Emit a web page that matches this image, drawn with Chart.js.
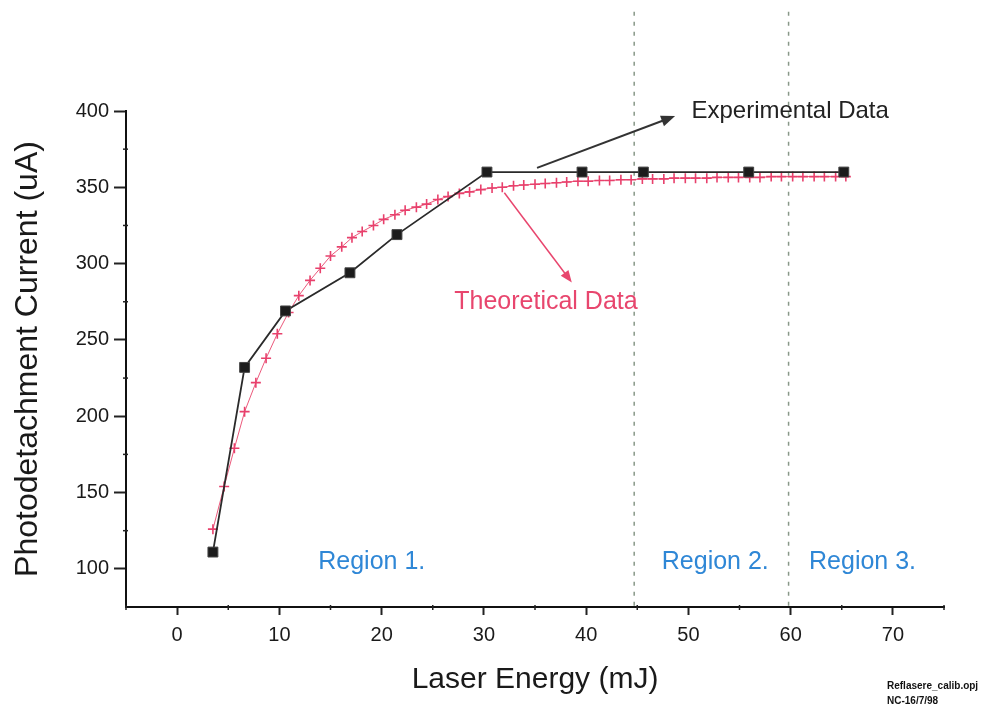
<!DOCTYPE html>
<html>
<head>
<meta charset="utf-8">
<title>Photodetachment Current vs Laser Energy</title>
<script src="https://cdn.jsdelivr.net/npm/chart.js@4.4.1/dist/chart.umd.min.js"></script>
<style>
  html, body { margin: 0; padding: 0; background: #fff; }
  canvas { display: block; }
</style>
</head>
<body>
<canvas id="myChart" width="997" height="706"></canvas>
<script>
// Datos experimentales (mJ, uA)
const energiaExp = [3.5, 6.6, 10.6, 16.9, 21.5, 30.3, 39.6, 45.6, 55.9, 65.2];
const corrienteExp = [111, 232, 269, 294, 319, 360, 360, 360, 360, 360];

// Datos teóricos (mJ, uA)
const energiaTeo = [3.5, 4.6, 5.6, 6.6, 7.7, 8.7, 9.8, 10.9, 11.9, 13.0,
  14.0, 15.0, 16.1, 17.1, 18.1, 19.2, 20.2, 21.3, 22.3, 23.4,
  24.4, 25.5, 26.5, 27.6, 28.6, 29.7, 30.8, 31.8, 32.9, 33.9,
  35.0, 36.0, 37.1, 38.1, 39.2, 40.2, 41.3, 42.3, 43.4, 44.4,
  45.5, 46.5, 47.6, 48.6, 49.7, 50.7, 51.8, 52.8, 53.9, 54.9,
  56.0, 57.0, 58.1, 59.1, 60.2, 61.2, 62.3, 63.3, 64.4, 65.4];
const corrienteTeo = [126, 154, 179, 203, 222, 238, 254, 268, 279, 289,
  297, 305, 311, 317, 321, 325, 329, 332, 335, 337,
  339, 342, 344, 346, 347, 348.5, 349.5, 350, 351, 351.5,
  352, 352.5, 353, 353.5, 354, 354, 354.5, 354.5, 355, 355,
  355.5, 355.5, 355.5, 356, 356, 356, 356, 356.5, 356.5, 356.5,
  356.5, 356.5, 357, 357, 357, 357, 357, 357, 357, 357];

// Marcas de los ejes
const ticksX = [0, 10, 20, 30, 40, 50, 60, 70];
const ticksY = [100, 150, 200, 250, 300, 350, 400];
const menoresX = [-5, 5, 15, 25, 35, 45, 55, 65, 75];
const menoresY = [125, 175, 225, 275, 325, 375];

// Límites entre regiones y sus nombres
const limitesRegion = [44.7, 59.8];
const regiones = ['Region 1.', 'Region 2.', 'Region 3.'];

const fuente = '"Liberation Sans", Arial, Helvetica, sans-serif';

const puntos = (xs, ys) => xs.map((x, i) => ({ x: x, y: ys[i] }));

// Dibuja una flecha con punta rellena
function flecha(ctx, x1, y1, x2, y2, color, ancho, largo) {
  const ang = Math.atan2(y2 - y1, x2 - x1);
  ctx.save();
  ctx.strokeStyle = color;
  ctx.fillStyle = color;
  ctx.lineWidth = ancho;
  ctx.beginPath();
  ctx.moveTo(x1, y1);
  ctx.lineTo(x2 - Math.cos(ang) * largo * 0.6, y2 - Math.sin(ang) * largo * 0.6);
  ctx.stroke();
  ctx.beginPath();
  ctx.moveTo(x2, y2);
  ctx.lineTo(x2 - largo * Math.cos(ang) + largo * 0.4 * Math.sin(ang), y2 - largo * Math.sin(ang) - largo * 0.4 * Math.cos(ang));
  ctx.lineTo(x2 - largo * Math.cos(ang) - largo * 0.4 * Math.sin(ang), y2 - largo * Math.sin(ang) + largo * 0.4 * Math.cos(ang));
  ctx.closePath();
  ctx.fill();
  ctx.restore();
}

// Líneas de región (detrás de las series)
const lineasRegion = {
  id: 'lineasRegion',
  beforeDatasetsDraw(chart) {
    const { ctx, scales: { x, y } } = chart;
    ctx.save();
    ctx.strokeStyle = '#889888';
    ctx.lineWidth = 1.5;
    ctx.setLineDash([4, 6]);
    limitesRegion.forEach((v) => {
      const px = x.getPixelForValue(v);
      ctx.beginPath();
      ctx.moveTo(px, y.getPixelForValue(465));
      ctx.lineTo(px, y.getPixelForValue(75));
      ctx.stroke();
    });
    ctx.restore();
  }
};

// Marcas menores, textos y flechas
const anotaciones = {
  id: 'anotaciones',
  afterDraw(chart) {
    const { ctx, scales: { x, y } } = chart;
    ctx.save();

    // marcas menores sobre los ejes
    ctx.strokeStyle = '#222';
    ctx.lineWidth = 1.5;
    const yBase = y.getPixelForValue(75);
    menoresX.forEach((v) => {
      const px = x.getPixelForValue(v);
      ctx.beginPath();
      ctx.moveTo(px, yBase - 2);
      ctx.lineTo(px, yBase + 3);
      ctx.stroke();
    });
    const xBase = x.getPixelForValue(-5);
    menoresY.forEach((v) => {
      const py = y.getPixelForValue(v);
      ctx.beginPath();
      ctx.moveTo(xBase - 3, py);
      ctx.lineTo(xBase + 2, py);
      ctx.stroke();
    });

    ctx.textBaseline = 'middle';
    ctx.textAlign = 'left';

    // Experimental Data
    ctx.font = '24px ' + fuente;
    ctx.fillStyle = '#222';
    ctx.fillText('Experimental Data', x.getPixelForValue(50.3), y.getPixelForValue(400));
    flecha(ctx, x.getPixelForValue(35.2), y.getPixelForValue(362.7),
      x.getPixelForValue(48.7), y.getPixelForValue(396.7), '#333', 2, 14);

    // Theoretical Data
    ctx.font = '25px ' + fuente;
    ctx.fillStyle = '#e8466e';
    ctx.fillText('Theoretical Data', x.getPixelForValue(27.1), y.getPixelForValue(274.5));
    flecha(ctx, x.getPixelForValue(32.0), y.getPixelForValue(346.4),
      x.getPixelForValue(38.6), y.getPixelForValue(287.6), '#e8466e', 1.5, 12);

    // Nombres de las regiones
    ctx.fillStyle = '#2f87d6';
    const posRegion = [13.8, 47.4, 61.8];
    regiones.forEach((r, i) => {
      ctx.fillText(r, x.getPixelForValue(posRegion[i]), y.getPixelForValue(104.6));
    });

    // nota del archivo
    ctx.fillStyle = '#111';
    ctx.font = 'bold 10px ' + fuente;
    ctx.fillText('Reflasere_calib.opj', 887, 686);
    ctx.fillText('NC-16/7/98', 887, 701);

    ctx.restore();
  }
};

const ctx = document.getElementById('myChart');

new Chart(ctx, {
  type: 'scatter',
  data: {
    datasets: [
      {
        label: 'Experimental Data',
        data: puntos(energiaExp, corrienteExp),
        showLine: true,
        borderColor: '#2a2a2a',
        borderWidth: 1.8,
        pointStyle: 'rect',
        pointRadius: 7,
        pointBackgroundColor: '#1c1c1c',
        pointBorderColor: '#444',
        pointBorderWidth: 1,
        order: 0
      },
      {
        label: 'Theoretical Data',
        data: puntos(energiaTeo, corrienteTeo),
        showLine: true,
        borderColor: 'rgba(232, 60, 100, 0.85)',
        borderWidth: 1,
        pointStyle: 'cross',
        pointRadius: 5,
        pointBorderColor: '#e8406c',
        pointBorderWidth: 1.6,
        order: 1
      }
    ]
  },
  options: {
    responsive: false,
    animation: false,
    layout: { padding: { top: 111, right: 53, left: 0, bottom: 0 } },
    plugins: {
      legend: { display: false },
      tooltip: { enabled: false }
    },
    scales: {
      x: {
        type: 'linear',
        min: -5,
        max: 75,
        afterBuildTicks: (scale) => { scale.ticks = ticksX.map((v) => ({ value: v })); },
        afterFit: (scale) => { scale.height = 99; },
        grid: { drawOnChartArea: false, drawTicks: true, tickLength: 8, tickColor: '#222', tickWidth: 2 },
        border: { display: true, color: '#111', width: 2 },
        ticks: { color: '#1a1a1a', font: { family: fuente, size: 20 }, padding: 8, maxRotation: 0 },
        title: {
          display: true,
          text: 'Laser Energy (mJ)',
          color: '#1a1a1a',
          font: { family: fuente, size: 30 },
          padding: { top: 0, bottom: 8 }
        }
      },
      y: {
        type: 'linear',
        min: 75,
        max: 400,
        afterBuildTicks: (scale) => { scale.ticks = ticksY.map((v) => ({ value: v })); },
        afterFit: (scale) => { scale.width = 126; },
        grid: { drawOnChartArea: false, drawTicks: true, tickLength: 12, tickColor: '#222', tickWidth: 2 },
        border: { display: true, color: '#111', width: 2 },
        ticks: { color: '#1a1a1a', font: { family: fuente, size: 20 }, padding: 5 },
        title: {
          display: true,
          text: 'Photodetachment Current (uA)',
          color: '#1a1a1a',
          font: { family: fuente, size: 32 },
          padding: { top: 9, bottom: 0 }
        }
      }
    }
  },
  plugins: [lineasRegion, anotaciones]
});
</script>
</body>
</html>
